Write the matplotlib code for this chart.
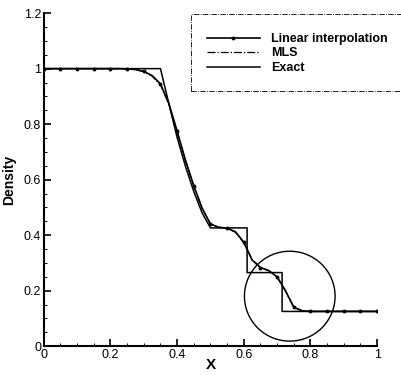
import matplotlib
matplotlib.use('Agg')
from matplotlib import pyplot as plt
from matplotlib.patches import Ellipse, Rectangle
from matplotlib.ticker import MultipleLocator, FormatStrFormatter

plt.rcParams['font.family'] = ['Liberation Sans', 'DejaVu Sans']

# exact solution
exact_x = [0.0, 0.35, 0.375, 0.40, 0.425, 0.45, 0.475, 0.50, 0.61, 0.61, 0.715, 0.715, 1.0]
exact_rho = [1.0, 1.0, 0.875, 0.752, 0.648, 0.557, 0.480, 0.426, 0.426, 0.265, 0.265, 0.125, 0.125]

# linear interpolation result
lin_x = [0.0, 0.025, 0.05, 0.075, 0.1, 0.125, 0.15, 0.175, 0.2, 0.225, 0.25, 0.275,
         0.3, 0.325, 0.35, 0.375, 0.4, 0.425, 0.45, 0.475, 0.5, 0.525, 0.55, 0.575,
         0.6, 0.625, 0.65, 0.675, 0.7, 0.725, 0.75, 0.775, 0.8, 0.825, 0.85, 0.875,
         0.9, 0.925, 0.95, 0.975, 1.0]
lin_rho = [1.0, 1.0, 1.0, 1.0, 1.0, 1.0, 1.0, 1.0, 1.0, 1.0, 0.999, 0.997,
           0.990, 0.975, 0.945, 0.875, 0.775, 0.670, 0.578, 0.497, 0.440, 0.428, 0.425, 0.412,
           0.375, 0.310, 0.283, 0.272, 0.250, 0.200, 0.140, 0.127, 0.125, 0.125, 0.125, 0.125,
           0.125, 0.125, 0.125, 0.125, 0.125]

# MLS result
mls_x = lin_x
mls_rho = [1.0, 1.0, 1.0, 1.0, 1.0, 1.0, 1.0, 1.0, 1.0, 1.0, 0.999, 0.996,
           0.989, 0.973, 0.942, 0.872, 0.772, 0.668, 0.576, 0.496, 0.441, 0.429, 0.425, 0.410,
           0.372, 0.312, 0.284, 0.272, 0.248, 0.198, 0.141, 0.128, 0.125, 0.125, 0.125, 0.125,
           0.125, 0.125, 0.125, 0.125, 0.125]

fig = plt.figure(figsize=(4.02, 3.75), dpi=100)
ax = fig.add_axes([0.109, 0.077, 0.829, 0.888])

ax.plot(lin_x, lin_rho, color='black', lw=1.2, marker='o', ms=1.8,
        markevery=2, label='Linear interpolation')
ax.plot(mls_x, mls_rho, color='black', lw=0.9, ls='-.', label='MLS')
ax.plot(exact_x, exact_rho, color='black', lw=1.1, label='Exact')

ax.add_patch(Ellipse((0.738, 0.18), 0.272, 0.324, fill=False, color='black', lw=1.0))

ax.set_xlim(0, 1)
ax.set_ylim(0, 1.2)
ax.spines['top'].set_visible(False)
ax.spines['right'].set_visible(False)
ax.spines['left'].set_linewidth(1.5)
ax.spines['bottom'].set_linewidth(1.5)
ax.xaxis.set_major_locator(MultipleLocator(0.2))
ax.xaxis.set_minor_locator(MultipleLocator(0.05))
ax.yaxis.set_major_locator(MultipleLocator(0.2))
ax.yaxis.set_minor_locator(MultipleLocator(0.05))
ax.xaxis.set_major_formatter(FormatStrFormatter('%g'))
ax.yaxis.set_major_formatter(FormatStrFormatter('%g'))
ax.tick_params(which='both', direction='in', top=False, right=False, labelsize=9)
ax.tick_params(which='major', length=5, width=1.2, pad=2)
ax.tick_params(which='minor', length=2.5, width=0.7)

ax.set_xlabel('X', fontsize=11, fontweight='bold')
ax.xaxis.set_label_coords(0.5, -0.036)
ax.set_ylabel('Density', fontsize=10, fontweight='bold')
ax.yaxis.set_label_coords(-0.082, 0.5)

# legend box with dash-dot frame
fig.patches.append(Rectangle((0.475, 0.757), 0.55, 0.206, transform=fig.transFigure,
                             fill=False, ls='-.', lw=0.6, color='black'))
leg = fig.legend(loc='upper left', bbox_to_anchor=(207 / 402, 1 - 33 / 375),
                 frameon=False, handlelength=4.2, handletextpad=0.9,
                 labelspacing=0.2, borderpad=0, borderaxespad=0, numpoints=1,
                 prop={'weight': 'bold', 'size': 9})

fig.savefig('out.png', dpi=100)
